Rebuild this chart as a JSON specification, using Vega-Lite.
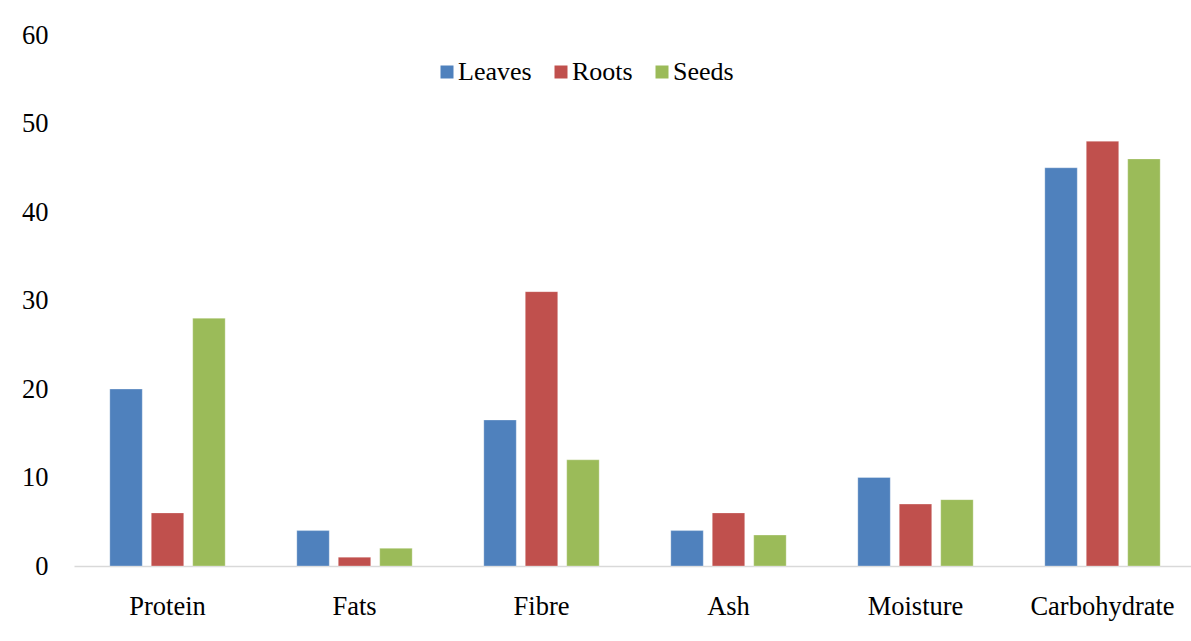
{
  "$schema": "https://vega.github.io/schema/vega-lite/v6.json",
  "autosize": "none",
  "width": 1122,
  "height": 531,
  "padding": {"left": 74, "top": 35, "right": -5, "bottom": 75},
  "background": "white",
  "config": {
    "view": {"stroke": null},
    "font": "Liberation Serif",
    "axis": {"labelFont": "Liberation Serif", "labelColor": "black", "labelFontSize": 26.5, "grid": false, "ticks": false, "title": null},
    "legend": {"labelFont": "Liberation Serif", "labelColor": "black", "labelFontSize": 26}
  },
  "data": {
    "values": [
      {"component": "Protein", "part": "Leaves", "value": 20},
      {"component": "Protein", "part": "Roots", "value": 6},
      {"component": "Protein", "part": "Seeds", "value": 28},
      {"component": "Fats", "part": "Leaves", "value": 4},
      {"component": "Fats", "part": "Roots", "value": 1},
      {"component": "Fats", "part": "Seeds", "value": 2},
      {"component": "Fibre", "part": "Leaves", "value": 16.5},
      {"component": "Fibre", "part": "Roots", "value": 31},
      {"component": "Fibre", "part": "Seeds", "value": 12},
      {"component": "Ash", "part": "Leaves", "value": 4},
      {"component": "Ash", "part": "Roots", "value": 6},
      {"component": "Ash", "part": "Seeds", "value": 3.5},
      {"component": "Moisture", "part": "Leaves", "value": 10},
      {"component": "Moisture", "part": "Roots", "value": 7},
      {"component": "Moisture", "part": "Seeds", "value": 7.5},
      {"component": "Carbohydrate", "part": "Leaves", "value": 45},
      {"component": "Carbohydrate", "part": "Roots", "value": 48},
      {"component": "Carbohydrate", "part": "Seeds", "value": 46}
    ]
  },
  "mark": {"type": "bar", "stroke": "white", "strokeWidth": 0.5, "strokeOpacity": 0.6},
  "encoding": {
    "x": {
      "field": "component",
      "type": "nominal",
      "sort": null,
      "scale": {"paddingInner": 0.383, "paddingOuter": 0.1915},
      "axis": {"labelAngle": 0, "domainColor": "#D9D9D9", "domainWidth": 1.5, "labelPadding": 27}
    },
    "xOffset": {
      "field": "part",
      "type": "nominal",
      "scale": {"paddingInner": 0.217, "paddingOuter": 0}
    },
    "y": {
      "field": "value",
      "type": "quantitative",
      "scale": {"domain": [0, 60], "nice": false},
      "axis": {"values": [0, 10, 20, 30, 40, 50, 60], "domain": false, "labelPadding": 26}
    },
    "color": {
      "field": "part",
      "type": "nominal",
      "scale": {"domain": ["Leaves", "Roots", "Seeds"], "range": ["#4F81BD", "#C0504D", "#9BBB59"]},
      "legend": {
        "title": null,
        "orient": "none",
        "direction": "horizontal",
        "legendX": 360,
        "legendY": 24,
        "symbolType": "square",
        "symbolSize": 169,
        "symbolStrokeWidth": 0,
        "labelOffset": -2,
        "columnPadding": 16
      }
    }
  }
}
